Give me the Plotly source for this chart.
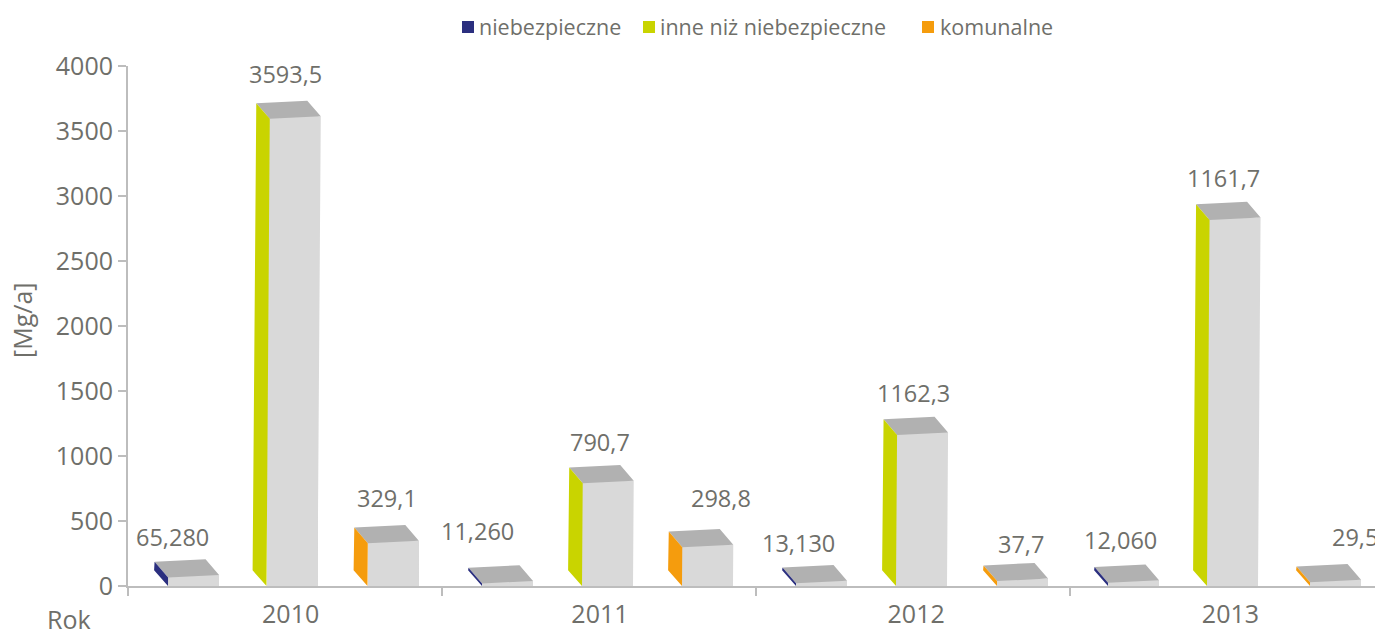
import plotly.graph_objects as go

years = ["2010", "2011", "2012", "2013"]
series = ["niebezpieczne", "inne niż niebezpieczne", "komunalne"]
niebezpieczne = [65.28, 20.0, 22.0, 25.0]
inne = [3593.5, 790.7, 1162.3, 2815.0]
komunalne = [329.1, 298.8, 37.7, 29.5]
labels_n = ["65,280", "11,260", "13,130", "12,060"]
labels_i = ["3593,5", "790,7", "1162,3", "1161,7"]
labels_k = ["329,1", "298,8", "37,7", "29,5"]
y_ticks = [0, 500, 1000, 1500, 2000, 2500, 3000, 3500, 4000]

values = [niebezpieczne, inne, komunalne]
texts = [labels_n, labels_i, labels_k]
side_colors = ["#2b2f7f", "#c9d400", "#f59c0d"]
FRONT, TOP, AXIS, TEXT = "#d9d9d9", "#b1b1b1", "#bdbdbd", "#6f6f6a"
FONT = "Open Sans"

# geometry: pixel scales of the plot
PX_X = 314.0            # pixels per category
PX_Y = 520.0 / 4000.0   # pixels per unit
W = 1375; H = 630; L = 128; T = 66; B = 44
x_end = (W - L) / PX_X

# left edge of each bar front, in px from the start of its category
slot_px = [[40, 138.5, 239.5], [40, 140, 240], [40, 140, 241], [38, 137, 240]]
BAR_W = 51.0
SHEAR = 0.007    # px of rightward lean per px of height
DEPTH_X = 13.5   # px
DEPTH_Y = 15.7   # px
SLOPE = 2.5      # px the front top rises left to right

def X(px):
    return px / PX_X
def Y(px):
    return px / PX_Y

fig = go.Figure()

side_polys = []
top_x, top_y = [], []
wedge_x, wedge_y = [], []

for s, name in enumerate(series):
    xs, hs = [], []
    sx, sy = [], []
    for c in range(len(years)):
        v = values[s][c]
        xl = c + X(slot_px[c][s])
        h_px = v * PX_Y
        lean = X(SHEAR * h_px)
        dx, dy = X(DEPTH_X), Y(DEPTH_Y)
        w = X(BAR_W)
        slope = Y(SLOPE)
        xs.append(xl + w / 2)
        hs.append(v + slope)
        # left side face
        sx += [xl, xl + lean, xl + lean - dx, xl - dx * 1.03, xl, None]
        sy += [0, v, v + dy, dy, 0, None]
        # top face
        top_x += [xl + lean, xl + lean + w, xl + lean + w - dx, xl + lean - dx, xl + lean, None]
        top_y += [v, v + slope, v + slope + dy, v + dy, v, None]
        # lean of the right edge
        wedge_x += [xl + w - X(1), xl + w, xl + w + lean, xl + w - X(1), None]
        wedge_y += [0, 0, v + slope, v + slope, None]
    fig.add_trace(go.Bar(x=xs, y=hs, width=X(BAR_W), marker=dict(color=FRONT, line=dict(width=0)),
                         name=name, showlegend=False, hoverinfo="skip"))
    side_polys.append((sx, sy, side_colors[s], name))

fig.add_trace(go.Scatter(x=wedge_x, y=wedge_y, mode="lines", fill="toself", fillcolor=FRONT,
                         line=dict(width=0), showlegend=False, hoverinfo="skip"))
fig.add_trace(go.Scatter(x=top_x, y=top_y, mode="lines", fill="toself", fillcolor=TOP,
                         line=dict(width=0), showlegend=False, hoverinfo="skip"))
for sx, sy, col, name in side_polys:
    fig.add_trace(go.Scatter(x=sx, y=sy, mode="lines", fill="toself", fillcolor=col,
                             line=dict(width=0), showlegend=False, hoverinfo="skip"))

# data labels: offset in px from the top-left of the bar front
label_shift = [
    [(-21, 25), (-7, 29), (-6, 29)],
    [(-30, 36), (-8, 25), (13, 33)],
    [(-23, 24), (-8, 26), (-2, 21)],
    [(-13, 27), (-9, 26), (19, 29)],
]
for c in range(len(years)):
    for s in range(3):
        xl = c + X(slot_px[c][s])
        dxp, dyp = label_shift[c][s]
        fig.add_annotation(x=xl + X(BAR_W / 2), y=values[s][c], xref="x", yref="y", text=texts[s][c],
                           showarrow=False, xshift=dxp, yshift=dyp + 16,
                           font=dict(family=FONT, size=23.5, color=TEXT))

# legend
legend_px = [(462, 477), (643, 658), (922, 938)]
for (sq, tx), name, col in zip(legend_px, series, side_colors):
    fig.add_shape(type="rect", xref="paper", yref="paper",
                  x0=(sq - L) / (W - L), x1=(sq + 12 - L) / (W - L),
                  y0=(H - B - 33) / (H - B - T), y1=(H - B - 21) / (H - B - T),
                  fillcolor=col, line=dict(width=0))
    fig.add_annotation(x=(tx - L) / (W - L), y=(H - B - 26) / (H - B - T), xref="paper", yref="paper",
                       xanchor="left", yanchor="middle", text=name, showarrow=False,
                       font=dict(family=FONT, size=21.5, color=TEXT))

fig.add_annotation(x=(69 - L) / (W - L), y=(H - B - 619) / (H - B - T), xref="paper", yref="paper",
                   xanchor="center", yanchor="middle", text="Rok", showarrow=False,
                   font=dict(family=FONT, size=25, color=TEXT))
fig.add_annotation(x=(22 - L) / (W - L), y=(H - B - 321) / (H - B - T), xref="paper", yref="paper",
                   xanchor="center", yanchor="middle", text="[Mg/a]", showarrow=False, textangle=-90,
                   font=dict(family=FONT, size=25, color=TEXT))

fig.update_layout(
    width=W, height=H, autosize=False, barmode="overlay", paper_bgcolor="white", plot_bgcolor="white",
    margin=dict(l=L, r=0, t=T, b=B),
    bargap=0,
    xaxis=dict(range=[0, x_end], tickmode="array", tickvals=[0.518, 1.503, 2.51, 3.511], ticktext=years,
               ticks="outside", ticklen=5, tickcolor="rgba(0,0,0,0)", showgrid=False, zeroline=False,
               showline=True, linecolor=AXIS, linewidth=2,
               tickfont=dict(family=FONT, size=25, color=TEXT),
               minor=dict(tickmode="array", tickvals=[0, 1, 2, 3], ticks="outside", ticklen=8,
                          tickcolor=AXIS, tickwidth=1.5, showgrid=False)),
    yaxis=dict(range=[0, 4000], tickmode="array", tickvals=y_ticks, ticks="outside", ticklen=8,
               tickcolor=AXIS, tickwidth=1.5, showgrid=False, zeroline=False, showline=True,
               linecolor=AXIS, linewidth=2, tickfont=dict(family=FONT, size=25, color=TEXT)),
)
fig.write_html("out.html", config={"displayModeBar": False},
               post_script="document.body.style.margin='0';document.documentElement.style.overflow='hidden';")
